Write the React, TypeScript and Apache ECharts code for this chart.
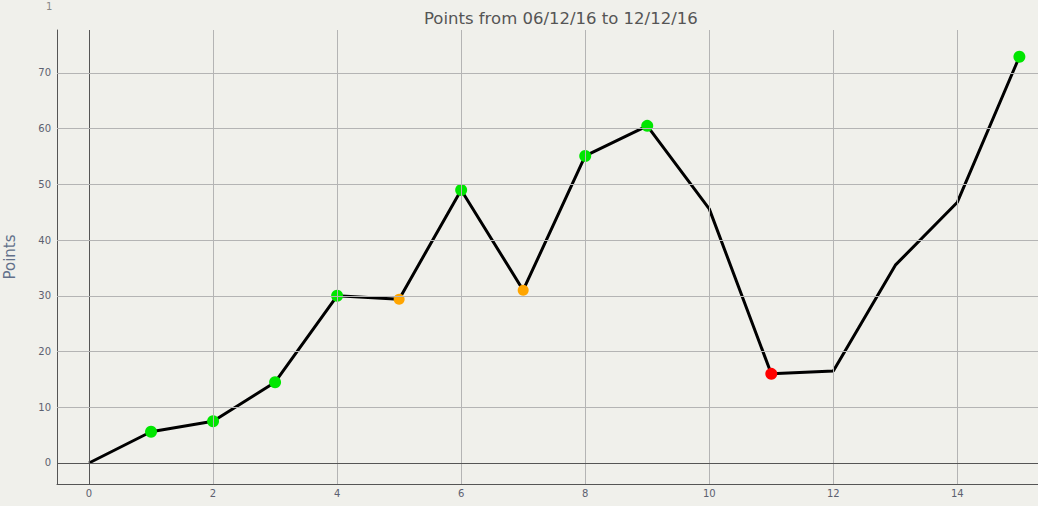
import React, { useEffect, useRef } from "react";
import * as echarts from "echarts";

const titleText = "Points from 06/12/16 to 12/12/16";
const yAxisName = "Points";
const days = [0, 1, 2, 3, 4, 5, 6, 7, 8, 9, 10, 11, 12, 13, 14, 15];
const points = [0, 5.6, 7.5, 14.5, 30.0, 29.4, 49.0, 31.0, 55.1, 60.5, 45.6, 16.0, 16.5, 35.5, 46.8, 72.9];
const markerColors: (string | null)[] = [
  null, "#00e600", "#00e600", "#00e600", "#00e600", "#ffa500", "#00e600", "#ffa500",
  "#00e600", "#00e600", null, "#ff0000", null, null, null, "#00e600",
];
const xTicks = [0, 2, 4, 6, 8, 10, 12, 14];
const yTicks = [0, 10, 20, 30, 40, 50, 60, 70];

export default function App() {
  const ref = useRef<HTMLDivElement>(null);
  useEffect(() => {
    if (!ref.current) return;
    const chart = echarts.init(ref.current, null, { renderer: "svg" });
    const gridColor = "#b4b4b4";
    const darkColor = "#555555";
    const labelColor = "#5c6070";
    const gridLines: any[] = [];
    xTicks.forEach((v) =>
      gridLines.push({ xAxis: v, lineStyle: { color: v === 0 ? darkColor : gridColor, width: 1, type: "solid" } })
    );
    yTicks.forEach((v) =>
      gridLines.push({ yAxis: v, lineStyle: { color: v === 0 ? darkColor : gridColor, width: 1, type: "solid" } })
    );
    chart.setOption({
      animation: false,
      backgroundColor: "#f0f0eb",
      title: {
        text: titleText,
        left: 419,
        top: 5,
        textStyle: { fontFamily: "DejaVu Sans", fontSize: 16.5, fontWeight: "normal", color: "#555555" },
      },
      graphic: [
        {
          type: "text",
          left: 46,
          top: 1,
          style: { text: "1", fontFamily: "DejaVu Sans", fontSize: 10, fill: "#888888" },
        },
      ],
      grid: { left: 57, top: 30, right: 0, bottom: 22, containLabel: false, outerBoundsMode: "none" },
      xAxis: {
        type: "value",
        min: -0.516,
        max: 15.3,
        axisLine: { show: true, onZero: false, lineStyle: { color: darkColor, width: 1 } },
        axisTick: { show: false },
        splitLine: { show: false },
        axisLabel: {
          customValues: xTicks,
          color: labelColor,
          fontFamily: "DejaVu Sans",
          fontSize: 10,
          margin: 4,
        },
      },
      yAxis: {
        type: "value",
        min: -3.77,
        max: 77.7,
        name: yAxisName,
        nameLocation: "middle",
        nameGap: 40,
        nameTextStyle: { fontFamily: "DejaVu Sans", fontSize: 15, color: "#62708a" },
        axisLine: { show: true, onZero: false, lineStyle: { color: darkColor, width: 1 } },
        axisTick: { show: false },
        splitLine: { show: false },
        axisLabel: {
          customValues: yTicks,
          color: labelColor,
          fontFamily: "DejaVu Sans",
          fontSize: 10,
          margin: 6,
        },
      },
      series: [
        {
          type: "line",
          z: 1,
          data: days.map((d, i) => [d, points[i]]),
          showSymbol: false,
          lineStyle: { opacity: 0, width: 0 },
          silent: true,
          markLine: {
            silent: true,
            symbol: ["none", "none"],
            label: { show: false },
            data: gridLines,
          },
        },
        {
          type: "line",
          z: 3,
          data: days.map((d, i) => {
            const c = markerColors[i];
            if (!c) return { value: [d, points[i]], symbol: "none" };
            return {
              value: [d, points[i]],
              symbol: "circle",
              symbolSize: c === "#ffa500" ? 11 : 12,
              itemStyle: { color: c, borderWidth: 0 },
            };
          }),
          showAllSymbol: true,
          lineStyle: { color: "#000000", width: 3 },
        },
      ],
    });
    return () => chart.dispose();
  }, []);
  return (
    <div
      ref={ref}
      style={{ position: "fixed", left: 0, top: 0, width: 1038, height: 506 }}
    />
  );
}
